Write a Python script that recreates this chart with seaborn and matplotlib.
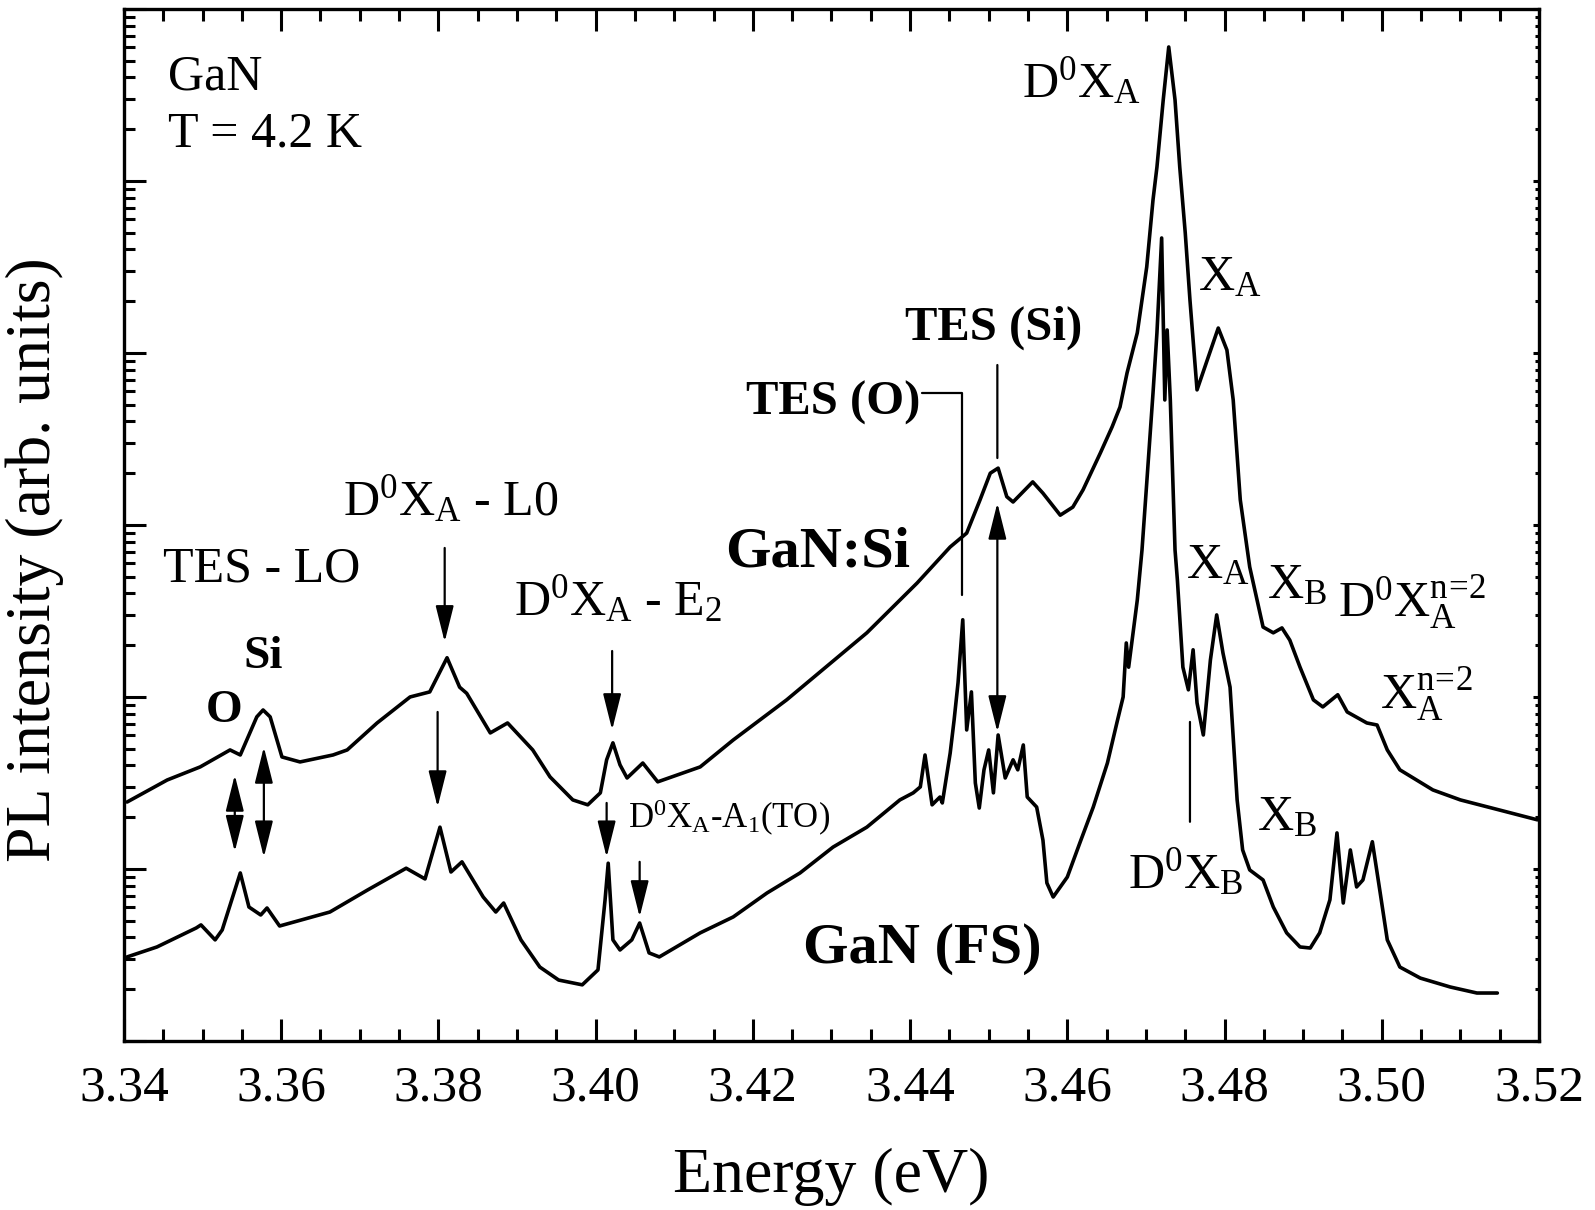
import numpy as np
import pandas as pd
import matplotlib
matplotlib.use("Agg")
import matplotlib.pyplot as plt
import seaborn as sns
from matplotlib.ticker import FixedLocator, MultipleLocator, LogLocator, NullFormatter

# ---------------- data ----------------
energy_si = [3.3404, 3.3455, 3.3497, 3.3535, 3.3548, 3.3569, 3.3577, 3.3586, 3.3601, 3.3624,
             3.3666, 3.3684, 3.3722, 3.3764, 3.3789, 3.3811, 3.3827, 3.3836, 3.3866, 3.3888,
             3.3920, 3.3942, 3.3971, 3.3990, 3.4006, 3.4014, 3.4022, 3.4031, 3.4040, 3.4060,
             3.4079, 3.4133, 3.4175, 3.4243, 3.4345, 3.4409, 3.4451, 3.4472, 3.4489, 3.4502,
             3.4512, 3.4523, 3.4531, 3.4556, 3.4569, 3.4591, 3.4607, 3.4620, 3.4642, 3.4657,
             3.4667, 3.4676, 3.4689, 3.4701, 3.4709, 3.4714, 3.4722, 3.4729, 3.4737, 3.4743,
             3.4750, 3.4756, 3.4765, 3.4778, 3.4792, 3.4803, 3.4811, 3.4820, 3.4832, 3.4849,
             3.4862, 3.4873, 3.4883, 3.4896, 3.4913, 3.4925, 3.4944, 3.4956, 3.4981, 3.4994,
             3.5007, 3.5023, 3.5065, 3.5100, 3.5150, 3.5198]
intensity_si = [24.5, 32.9, 39.2, 49.2, 46.0, 76.6, 84.0, 76.6, 44.8, 41.9,
                46.0, 49.2, 70.6, 100, 107, 169, 114, 105, 61.8, 70.6,
                49.2, 34.3, 25.2, 23.6, 27.7, 43.1, 54.1, 40.3, 33.8, 41.3,
                32.1, 39.2, 56.2, 96.2, 236, 460, 745, 897, 1400, 2000,
                2140, 1460, 1360, 1780, 1530, 1140, 1270, 1600, 2620, 3720,
                4850, 7660, 13100, 31600, 77600, 120500, 296000, 601000, 296000, 120500,
                49900, 20300, 6100, 9100, 13960, 10400, 5330, 1400, 570, 255,
                236, 252, 214, 149, 96.2, 87.5, 103, 81.8, 70.6, 68.7,
                49.2, 37.7, 28.8, 25.2, 22.0, 19.3]

energy_fs = [3.3404, 3.3442, 3.3492, 3.3498, 3.3516, 3.3525, 3.3548, 3.3559, 3.3574, 3.3582,
             3.3598, 3.3662, 3.3710, 3.3759, 3.3783, 3.3802, 3.3816, 3.3830, 3.3857, 3.3873,
             3.3883, 3.3905, 3.3929, 3.3953, 3.3983, 3.4003, 3.4012, 3.4016, 3.4022, 3.4031,
             3.4046, 3.4056, 3.4068, 3.4081, 3.4133, 3.4175, 3.4218, 3.4260, 3.4302, 3.4345,
             3.4387, 3.4404, 3.4413, 3.4419, 3.4428, 3.4438, 3.4441, 3.4451, 3.4456, 3.4461,
             3.4467, 3.4472, 3.4478, 3.4483, 3.4488, 3.4494, 3.4500, 3.4506, 3.4512, 3.4521,
             3.4531, 3.4537, 3.4544, 3.4549, 3.4561, 3.4569, 3.4574, 3.4582, 3.4600, 3.4616,
             3.4633, 3.4651, 3.4663, 3.4671, 3.4675, 3.4678, 3.4689, 3.4695, 3.4701, 3.4709,
             3.4714, 3.4720, 3.4724, 3.4727, 3.4731, 3.4737, 3.4740, 3.4747, 3.4754, 3.4760,
             3.4765, 3.4773, 3.4782, 3.4790, 3.4798, 3.4807, 3.4816, 3.4823, 3.4832, 3.4849,
             3.4862, 3.4879, 3.4896, 3.4909, 3.4921, 3.4934, 3.4943, 3.4951, 3.4960, 3.4968,
             3.4976, 3.4988, 3.4998, 3.5007, 3.5023, 3.5049, 3.5087, 3.5121, 3.5147]
intensity_fs = [3.08, 3.52, 4.54, 4.73, 3.87, 4.42, 9.48, 6.01, 5.40, 5.93,
                4.66, 5.62, 7.55, 10.1, 8.75, 17.5, 9.6, 11.0, 6.87, 5.62,
                6.34, 3.87, 2.69, 2.26, 2.12, 2.59, 6.61, 10.8, 3.87, 3.38,
                3.87, 4.85, 3.25, 3.08, 4.25, 5.26, 7.25, 9.48, 13.4, 17.5,
                25.2, 27.7, 30.0, 46.0, 23.6, 26.2, 24.2, 47.2, 73.5, 121,
                281, 64.3, 107, 31.6, 22.6, 37.7, 49.2, 27.7, 60.1, 33.8,
                43.1, 37.7, 52.6, 26.2, 22.9, 14.7, 8.29, 6.87, 8.98, 14.2,
                22.9, 41.3, 70.6, 100, 206, 149, 366, 716, 1750, 5850,
                13100, 46600, 5330, 13600, 5330, 716, 479, 149, 110, 188,
                92.3, 60.1, 164, 300, 180, 114, 25.2, 12.9, 9.87, 8.63,
                6.01, 4.25, 3.52, 3.47, 4.25, 6.61, 16.2, 6.34, 12.9, 7.86,
                8.63, 14.4, 7.25, 3.87, 2.69, 2.32, 2.06, 1.90, 1.90]

x_ticks = [3.34, 3.36, 3.38, 3.40, 3.42, 3.44, 3.46, 3.48, 3.50, 3.52]
x_tick_labels = ["3.34", "3.36", "3.38", "3.40", "3.42", "3.44", "3.46", "3.48", "3.50", "3.52"]

df_si = pd.DataFrame({"energy": energy_si, "intensity": intensity_si})
df_fs = pd.DataFrame({"energy": energy_fs, "intensity": intensity_fs})

# ---------------- style ----------------
sns.set_theme(style="ticks")
plt.rcParams["font.family"] = ["Liberation Serif", "DejaVu Serif"]
plt.rcParams["mathtext.fontset"] = "custom"
plt.rcParams["mathtext.rm"] = "Liberation Serif"
plt.rcParams["mathtext.it"] = "Liberation Serif:italic"
plt.rcParams["mathtext.bf"] = "Liberation Serif:bold"
plt.rcParams["axes.linewidth"] = 2.4
plt.rcParams["text.color"] = "black"
plt.rcParams["axes.labelcolor"] = "black"
plt.rcParams["xtick.color"] = "black"
plt.rcParams["ytick.color"] = "black"
plt.rcParams["axes.edgecolor"] = "black"

fig = plt.figure(figsize=(15.95, 12.10), dpi=100)
ax = fig.add_axes([0.0777, 0.1397, 0.8872, 0.8529])

sns.lineplot(data=df_si, x="energy", y="intensity", color="black", lw=2.6,
             estimator=None, sort=False, ax=ax)
sns.lineplot(data=df_fs, x="energy", y="intensity", color="black", lw=2.6,
             estimator=None, sort=False, ax=ax)

ax.set_yscale("log")
ax.set_xlim(3.34, 3.52)
ax.set_ylim(1, 1e6)

for sp in ax.spines.values():
    sp.set_visible(True)
    sp.set_linewidth(2.4)
    sp.set_color("black")

ax.xaxis.set_major_locator(FixedLocator(x_ticks))
ax.set_xticklabels(x_tick_labels)
ax.xaxis.set_minor_locator(MultipleLocator(0.005))
ax.tick_params(axis="x", which="both", direction="in", top=True, bottom=True,
               width=2.2, color="black", labelcolor="black")
ax.tick_params(axis="x", which="major", length=16, labelsize=37, pad=17)
ax.tick_params(axis="x", which="minor", length=8.5)

ax.yaxis.set_major_locator(LogLocator(base=10, numticks=10))
ax.yaxis.set_minor_locator(LogLocator(base=10, subs=np.arange(2, 10), numticks=100))
ax.yaxis.set_major_formatter(NullFormatter())
ax.yaxis.set_minor_formatter(NullFormatter())
ax.tick_params(axis="y", which="both", direction="in", left=True, right=True,
               width=2.2, color="black")
ax.tick_params(axis="y", which="major", length=16)
ax.tick_params(axis="y", which="minor", length=8)

ax.set_xlabel("Energy (eV)", fontsize=46, color="black")
ax.set_ylabel("PL intensity (arb. units)", fontsize=46, color="black")
ax.xaxis.set_label_coords(0.5, -0.104)
ax.yaxis.set_label_coords(-0.042, 0.466)

# ---------------- annotations ----------------
T = ax.transAxes
fs = 36
ax.text(0.031, 0.9215, "GaN", transform=T, fontsize=fs)
ax.text(0.031, 0.8663, "T = 4.2 K", transform=T, fontsize=fs)
ax.text(0.6346, 0.9147, r"D$^{0}$X$_{\mathrm{A}}$", transform=T, fontsize=fs)
ax.text(0.759, 0.7277, r"X$_{\mathrm{A}}$", transform=T, fontsize=fs)
ax.text(0.552, 0.680, "TES (Si)", transform=T, fontsize=35, fontweight="bold")
ax.text(0.5625, 0.6066, "TES (O)", transform=T, fontsize=35, fontweight="bold", ha="right")
ax.text(0.4247, 0.4593, "GaN:Si", transform=T, fontsize=42, fontweight="bold")
ax.text(0.4799, 0.0756, "GaN (FS)", transform=T, fontsize=42, fontweight="bold")
ax.text(0.0276, 0.4448, "TES - LO", transform=T, fontsize=fs)
ax.text(0.1548, 0.5097, r"D$^{0}$X$_{\mathrm{A}}$ - L0", transform=T, fontsize=fs)
ax.text(0.0848, 0.3614, "Si", transform=T, fontsize=34, fontweight="bold")
ax.text(0.058, 0.3091, "O", transform=T, fontsize=34, fontweight="bold")
ax.text(0.2756, 0.4128, r"D$^{0}$X$_{\mathrm{A}}$ - E$_{2}$", transform=T, fontsize=fs)
ax.text(0.3562, 0.2064, r"D$^{0}$X$_{\mathrm{A}}$-A$_{1}$(TO)", transform=T, fontsize=25)
ax.text(0.7505, 0.4486, r"X$_{\mathrm{A}}$", transform=T, fontsize=fs)
ax.text(0.8078, 0.4293, r"X$_{\mathrm{B}}$", transform=T, fontsize=fs)
ax.text(0.858, 0.4099, r"D$^{0}$X$_{\mathrm{A}}^{\mathrm{n}\!=\!\mathrm{2}}$", transform=T, fontsize=fs)
ax.text(0.8876, 0.3207, r"X$_{\mathrm{A}}^{\mathrm{n}\!=\!\mathrm{2}}$", transform=T, fontsize=fs)
ax.text(0.8007, 0.2045, r"X$_{\mathrm{B}}$", transform=T, fontsize=fs)
ax.text(0.7095, 0.1483, r"D$^{0}$X$_{\mathrm{B}}$", transform=T, fontsize=fs)

single = dict(arrowstyle="-|>,head_length=1.6,head_width=0.4", color="black",
              lw=1.6, mutation_scale=14, shrinkA=0, shrinkB=0)
double = dict(arrowstyle="<|-|>,head_length=1.6,head_width=0.4", color="black",
              lw=1.6, mutation_scale=14, shrinkA=0, shrinkB=0)
plain = dict(arrowstyle="-", color="black", lw=1.6, shrinkA=0, shrinkB=0)

# downward arrows: (energy, start intensity, tip intensity)
ax.annotate("", xy=(3.3808, 209), xytext=(3.3808, 735), arrowprops=single)
ax.annotate("", xy=(3.3799, 22.9), xytext=(3.3799, 81.8), arrowprops=single)
ax.annotate("", xy=(3.4021, 64.3), xytext=(3.4021, 185), arrowprops=single)
ax.annotate("", xy=(3.4014, 11.7), xytext=(3.4014, 24.2), arrowprops=single)
ax.annotate("", xy=(3.4056, 5.26), xytext=(3.4056, 11.0), arrowprops=single)
# double arrows
ax.annotate("", xy=(3.3541, 12.6), xytext=(3.3541, 35.2), arrowprops=double)
ax.annotate("", xy=(3.3578, 11.7), xytext=(3.3578, 51.2), arrowprops=double)
ax.annotate("", xy=(3.4511, 62.6), xytext=(3.4511, 1343), arrowprops=double)
# plain marker lines
ax.annotate("", xy=(3.4511, 2450), xytext=(3.4511, 8510), arrowprops=plain)
ax.annotate("", xy=(3.4756, 18.8), xytext=(3.4756, 71.6), arrowprops=plain)
ax.annotate("", xy=(3.4466, 392), xytext=(3.4415, 5850),
            arrowprops=dict(arrowstyle="-", color="black", lw=1.6, shrinkA=0, shrinkB=0,
                            connectionstyle="angle,angleA=0,angleB=90,rad=0"))

# very short ticks on the right spine, as in the reference
fig.canvas.draw()
for t in ax.yaxis.get_major_ticks():
    t.tick2line.set_markersize(4)
for t in ax.yaxis.get_minor_ticks():
    t.tick2line.set_markersize(3)

fig.savefig("out.png", dpi=100)
